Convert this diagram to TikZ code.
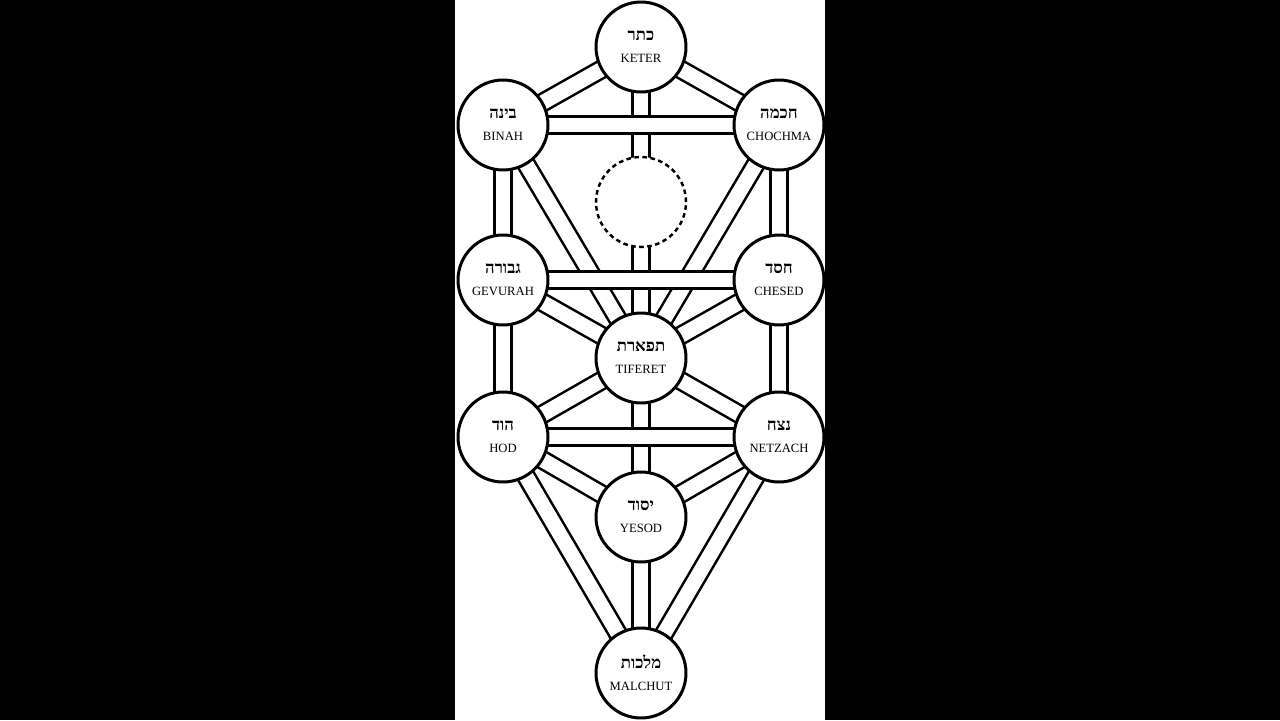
\documentclass[tikz,border=0pt]{standalone}
\usepackage{fontspec}
\setmainfont{Liberation Serif}
\newfontfamily\hebfont[Script=Hebrew]{Liberation Serif}
\TeXXeTstate=1
\usetikzlibrary{backgrounds}
\newcommand{\heb}[1]{{\hebfont\bfseries\fontsize{9.5pt}{12pt}\selectfont\beginR#1\endR}}

\begin{document}
\begin{tikzpicture}[
  x=0.02cm, y=-0.02cm,
  sefira/.style={circle, draw, line width=1.7pt, fill=white, minimum size=1.8cm,
    inner sep=0pt, align=center, font=\fontsize{7.2pt}{12.5pt}\selectfont},
  hidden/.style={sefira, line width=1.4pt, dash pattern=on 2.6pt off 2pt},
  channel/.style={line width=1.45pt, double=white, double distance=8.4pt}
]

% Backdrop
\begin{scope}[on background layer]
\fill[black] (0,0) rectangle (1280,720);
\fill[white] (455,0) rectangle (825,720);
\end{scope}

% Sefirot
\node[sefira] (keter) at (641,47) {\heb{כתר}\\KETER};
\node[sefira] (binah) at (503,125) {\heb{בינה}\\BINAH};
\node[sefira] (chochma) at (779,125) {\heb{חכמה}\\CHOCHMA};
\node[hidden] (daat) at (641,202) {};
\node[sefira] (gevurah) at (503,280) {\heb{גבורה}\\GEVURAH};
\node[sefira] (chesed) at (779,280) {\heb{חסד}\\CHESED};
\node[sefira] (tiferet) at (641,358) {\heb{תפארת}\\TIFERET};
\node[sefira] (hod) at (503,437) {\heb{הוד}\\HOD};
\node[sefira] (netzach) at (779,437) {\heb{נצח}\\NETZACH};
\node[sefira] (yesod) at (641,517) {\heb{יסוד}\\YESOD};
\node[sefira] (malchut) at (641,673) {\heb{מלכות}\\MALCHUT};

% Paths (horizontals last, so they cross over)
\begin{scope}[on background layer]
\foreach \a/\b in {keter/tiferet, tiferet/yesod, yesod/malchut,
    binah/gevurah, gevurah/hod, chochma/chesed, chesed/netzach,
    keter/binah, keter/chochma, binah/tiferet, chochma/tiferet,
    gevurah/tiferet, chesed/tiferet, tiferet/hod, tiferet/netzach,
    hod/yesod, netzach/yesod, hod/malchut, netzach/malchut}
  \draw[channel] (\a.center) -- (\b.center);
\foreach \a/\b in {binah/chochma, gevurah/chesed, hod/netzach}
  \draw[channel] (\a.center) -- (\b.center);
\end{scope}

\end{tikzpicture}
\end{document}
